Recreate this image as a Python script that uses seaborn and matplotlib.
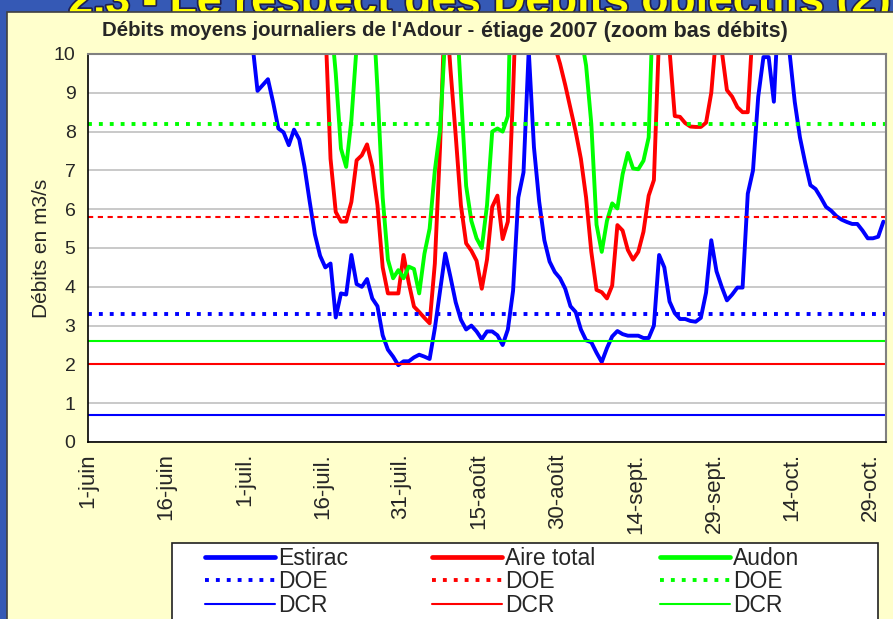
import matplotlib
matplotlib.use('Agg')
import matplotlib.pyplot as plt
import matplotlib.patheffects as pe
from matplotlib import font_manager
from matplotlib.lines import Line2D
from matplotlib.patches import Rectangle
import pandas as pd
import seaborn as sns

# Débits journaliers (m3/s), du 1er juin au 31 octobre 2007
# (valeurs > 10 : hors du cadre du zoom, lues approximativement)
estirac = [
    26, 25, 24, 25, 27, 24, 22, 21, 20, 19, 20, 18, 17, 16, 17, 16, 15, 15, 14, 15,
    14, 13, 14, 13, 13, 12, 12.5, 12, 11.5, 11.5, 11.0, 10.3, 9.05, 9.2, 9.35, 8.75,
    8.08, 7.98, 7.65, 8.05, 7.8, 7.1, 6.2, 5.35, 4.8, 4.5, 4.6, 3.21, 3.83, 3.8,
    4.82, 4.07, 4.0, 4.2, 3.7, 3.5, 2.75, 2.38, 2.2, 1.98, 2.08, 2.08, 2.18, 2.25,
    2.2, 2.14, 2.93, 3.9, 4.86, 4.25, 3.6, 3.15, 2.9, 3.0, 2.85, 2.65, 2.85, 2.85,
    2.75, 2.5, 2.9, 3.9, 6.3, 6.95, 10.1, 7.6, 6.2, 5.2, 4.65, 4.38, 4.22, 3.95,
    3.5, 3.35, 2.9, 2.62, 2.57, 2.3, 2.06, 2.42, 2.72, 2.86, 2.78, 2.74, 2.74, 2.74,
    2.68, 2.68, 3.0, 4.82, 4.5, 3.62, 3.32, 3.17, 3.17, 3.12, 3.1, 3.2, 3.85, 5.2,
    4.4, 4.0, 3.65, 3.8, 3.98, 3.98, 6.4, 7.0, 8.9, 9.92, 9.92, 8.77, 11.5, 12.0,
    10.05, 8.77, 7.85, 7.2, 6.62, 6.52, 6.3, 6.06, 5.96, 5.82, 5.73, 5.67, 5.62, 5.62,
    5.45, 5.25, 5.25, 5.29, 5.68,
]
aire_total = [
    30, 29, 31, 28, 27, 29, 26, 25, 24, 26, 24, 23, 22, 21, 22, 20, 19, 20, 18, 18,
    17, 18, 17, 16, 16, 15, 16, 15, 14, 15, 14, 14, 13, 14, 13, 13, 12.5, 13, 12.5, 12,
    12.5, 12, 11.5, 12, 11.8, 10.8, 7.3, 5.93, 5.68, 5.68, 6.19, 7.26, 7.39, 7.67, 7.1,
    6.1, 4.5, 3.83, 3.83, 3.83, 4.82, 4.1, 3.49, 3.35, 3.2, 3.06, 4.6, 7.6, 11.5, 9.6,
    7.9, 6.1, 5.12, 4.93, 4.67, 3.95, 4.7, 6.06, 6.35, 5.23, 5.68, 9.0, 13, 15, 16,
    15, 14, 12.5, 11.5, 10.2, 9.75, 9.2, 8.6, 8.0, 7.3, 6.3, 4.9, 3.92, 3.86, 3.7,
    4.03, 5.59, 5.45, 4.95, 4.7, 4.9, 5.42, 6.35, 6.75, 10.5, 13.0, 10.1, 8.4, 8.38,
    8.22, 8.13, 8.12, 8.12, 8.23, 9.0, 10.6, 10.1, 9.07, 8.9, 8.63, 8.5, 8.5, 10.8,
    14, 18, 22, 25, 24, 28, 26, 23, 21, 19, 18, 17, 16, 15.5, 15, 14.5, 14, 14, 13.5,
    13, 13, 12.5, 12.5, 12, 12.5,
]
audon = [
    35, 34, 33, 34, 32, 30, 31, 29, 28, 27, 28, 26, 25, 24, 25, 23, 22, 23, 21, 20,
    21, 20, 19, 19, 18, 18, 17, 17, 16, 16, 15, 15, 14, 15, 14, 14, 13.5, 13, 13.5, 13,
    12.5, 12.5, 12, 12, 11.5, 11.5, 11.0, 9.5, 7.56, 7.09, 8.3, 10.2, 12, 13, 11.5,
    9.1, 6.3, 4.7, 4.22, 4.43, 4.22, 4.52, 4.46, 3.83, 4.85, 5.5, 7.0, 8.04, 10.5, 12,
    11.5, 9.0, 6.6, 5.7, 5.25, 5.0, 6.1, 8.0, 8.08, 8.0, 8.4, 14, 18, 20, 19, 17, 16,
    15, 14, 13.5, 13, 12.5, 12, 11, 10.5, 9.7, 8.2, 5.6, 4.9, 5.7, 6.15, 6.02, 6.9,
    7.45, 7.05, 7.03, 7.25, 7.85, 12, 15, 18, 21, 24, 26, 25, 27, 30, 28, 26, 25, 24,
    23, 22, 21, 20, 21, 22, 20, 19, 18, 18, 17, 17, 16, 16, 15, 15, 14.5, 14, 14, 13.5,
    13.5, 13, 13, 12.5, 12.5, 12.5, 12, 12, 12.5, 13, 13, 13.5,
]

stations = ['Estirac', 'Aire total', 'Audon']
couleurs = ['#0000FF', '#FF0000', '#00FF00']
doe = [3.3, 5.8, 8.2]   # débits objectifs d'étiage
dcr = [0.7, 2.0, 2.6]   # débits de crise

tick_labels = ['1-juin', '16-juin', '1-juil.', '16-juil.', '31-juil.', '15-août',
               '30-août', '14-sept.', '29-sept.', '14-oct.', '29-oct.']

# Mise en forme des données
jours = pd.date_range('2007-06-01', '2007-10-31', freq='D') + pd.Timedelta(hours=12)
df = pd.DataFrame({
    'date': list(jours) * 3,
    'station': [s for s in stations for _ in jours],
    'debit': estirac + aire_total + audon,
})

sns.set_theme(style='white')
plt.rcParams['font.family'] = ['Liberation Sans', 'DejaVu Sans']

# Police étroite pour la première partie du titre si elle existe
noms = {f.name for f in font_manager.fontManager.ttflist}
if 'Liberation Sans Narrow' in noms:
    police_titre, taille_titre = 'Liberation Sans Narrow', 18
else:
    police_titre, taille_titre = 'Liberation Sans', 14.7

W, H = 893, 619
fig = plt.figure(figsize=(W / 100, H / 100), dpi=100)
fig.patch.set_facecolor('#3559B5')


def fx(px):
    return px / W


def fy(py):
    return 1 - py / H


# Titre de la diapositive (coupé en haut) et fond jaune du graphique
fig.text(fx(480), fy(14), '2.3 - Le respect des Débits objectifs (2)', fontsize=32,
         fontweight='bold', color='#FFFF00', ha='center', va='baseline', zorder=-2,
         path_effects=[pe.withStroke(linewidth=2.5, foreground='#202050')])
fig.patches.append(Rectangle((fx(7), -0.01), 1.0, fy(12) + 0.01, transform=fig.transFigure,
                             facecolor='#FFFFCC', edgecolor='#404040', lw=1.2, zorder=-1))

ax = fig.add_axes([fx(88), fy(442), fx(886) - fx(88), fy(54) - fy(442)])
ax.set_facecolor('white')

# Courbes de débit
sns.lineplot(data=df, x='date', y='debit', hue='station', hue_order=stations,
             palette=couleurs, linewidth=2.8, legend=False, ax=ax)

# Seuils DOE et DCR
for c, v in zip(couleurs, doe):
    if c == '#FF0000':
        ax.axhline(v, color=c, lw=1.5, ls=(0, (2.5, 2.2)))
    else:
        ax.axhline(v, color=c, lw=2.8, ls=(0, (1, 1.8)))
for c, v in zip(couleurs, dcr):
    ax.axhline(v, color=c, lw=1.5)

ax.set_xlim(pd.Timestamp('2007-06-01'), pd.Timestamp('2007-11-01'))
ax.set_ylim(0, 10)
ax.set_xticks(pd.date_range('2007-06-01', periods=len(tick_labels), freq='15D'))
ax.set_xticklabels(tick_labels, rotation=90, fontsize=16)
ax.set_yticks(range(0, 11))
ax.set_yticklabels([str(i) for i in range(0, 11)], fontsize=14)
ax.tick_params(axis='both', direction='out', length=6, width=1, color='black', pad=3)
ax.tick_params(axis='x', pad=2)
ax.set_xlabel('')
ax.set_ylabel('Débits en m3/s', fontsize=15, labelpad=2)
ax.yaxis.grid(True, color='#C0C0C0', lw=1.2)
ax.xaxis.grid(False)
ax.set_axisbelow(True)
for side in ['left', 'bottom']:
    ax.spines[side].set_color('black')
    ax.spines[side].set_linewidth(1.2)
for side in ['top', 'right']:
    ax.spines[side].set_color('#808080')
    ax.spines[side].set_linewidth(1.5)

# Titre du graphique
fig.text(fx(474), fy(31), "Débits moyens journaliers de l'Adour -", fontsize=taille_titre,
         fontweight='bold', ha='right', va='center', family=[police_titre, 'DejaVu Sans'])
fig.text(fx(481), fy(32), 'étiage 2007 (zoom bas débits)', fontsize=15.6,
         fontweight='bold', ha='left', va='center')

# Légende : une colonne par station dans un cadre commun
fig.patches.append(Rectangle((fx(172), -0.01), fx(878) - fx(172), fy(543) + 0.01,
                             transform=fig.transFigure, facecolor='white',
                             edgecolor='#202020', lw=1.2, zorder=4))
for i, (nom, c) in enumerate(zip(stations, couleurs)):
    handles = [
        Line2D([], [], color=c, lw=3.4),
        Line2D([], [], color=c, lw=2.8, ls=(0, (1, 1.8))),
        Line2D([], [], color=c, lw=1.5),
    ]
    leg = fig.legend(handles, [nom, 'DOE', 'DCR'], loc='upper left',
                     bbox_to_anchor=(fx([205, 432, 660][i]), fy(547)),
                     frameon=False, fontsize=16.5, handlelength=3.05, handletextpad=0.15,
                     labelspacing=0.02, borderpad=0, borderaxespad=0)
    leg.set_zorder(5)

fig.savefig('out.png', dpi=100, facecolor=fig.get_facecolor())
